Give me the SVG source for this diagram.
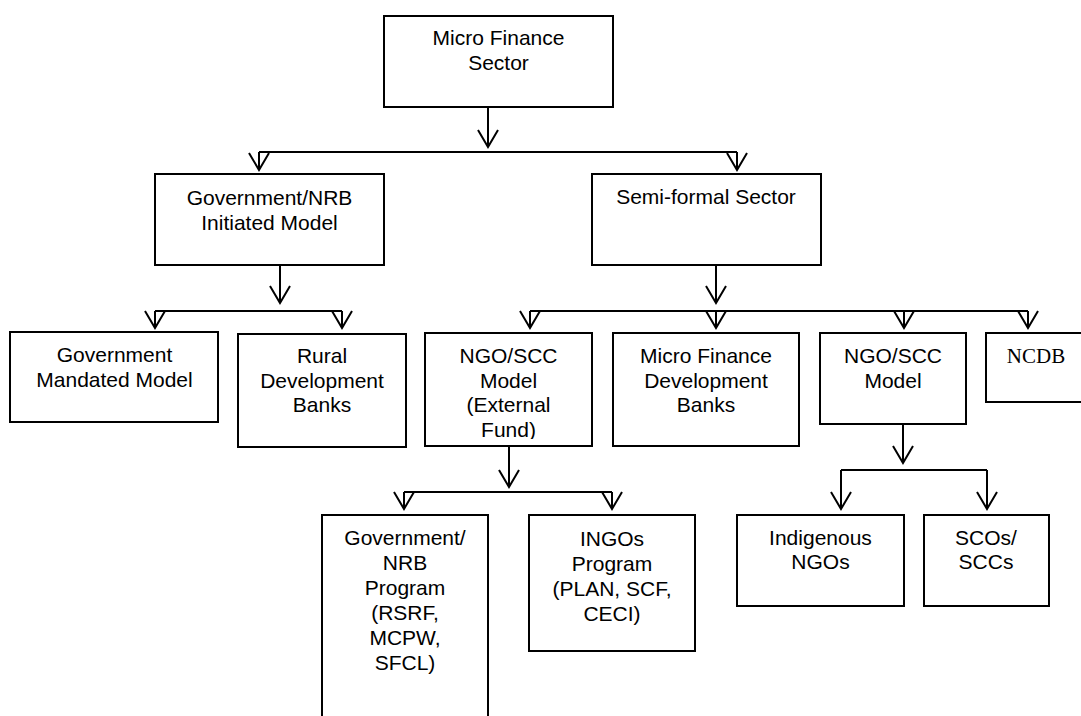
<svg xmlns="http://www.w3.org/2000/svg" width="1081" height="716" viewBox="0 0 1081 716">
  <style>
    .box { fill: #fff; stroke: #000; stroke-width: 2; }
    .lbl { font-family: "Liberation Sans", Arial, sans-serif; font-size: 21px; fill: #000; text-anchor: middle; }
    .ser { font-family: "Liberation Serif", "Times New Roman", serif; font-size: 21px; fill: #000; text-anchor: middle; }
    .con { fill: none; stroke: #000; stroke-width: 2; }
    .arr { fill: none; stroke: #000; stroke-width: 2; marker-end: url(#v); }
  </style>
  <defs>
    <marker id="v" markerUnits="userSpaceOnUse" markerWidth="40" markerHeight="40" viewBox="-20 -20 40 40" refX="0" refY="0" orient="auto" overflow="visible">
      <path d="M-17,-10 L0,0 L-17,10" fill="none" stroke="#000" stroke-width="2"/>
    </marker>
    <clipPath id="clipNgo"><rect x="425" y="333" width="167" height="106"/></clipPath>
  </defs>
  <rect width="1081" height="716" fill="#fff"/>

  <g id="connectors">
    <line class="arr" x1="488" y1="107" x2="488" y2="147"/>
    <polyline class="con" points="259,152 737,152"/>
    <line class="arr" x1="259" y1="152" x2="259" y2="170"/>
    <line class="arr" x1="737" y1="152" x2="737" y2="170"/>

    <line class="arr" x1="280" y1="265" x2="280" y2="303"/>
    <polyline class="con" points="155,311 342,311"/>
    <line class="arr" x1="155" y1="311" x2="155" y2="328"/>
    <line class="arr" x1="342" y1="311" x2="342" y2="328"/>

    <line class="arr" x1="716" y1="265" x2="716" y2="303"/>
    <polyline class="con" points="530,311 1028,311"/>
    <line class="arr" x1="530" y1="311" x2="530" y2="328"/>
    <line class="arr" x1="716" y1="311" x2="716" y2="328"/>
    <line class="arr" x1="904" y1="311" x2="904" y2="328"/>
    <line class="arr" x1="1028" y1="311" x2="1028" y2="328"/>

    <line class="arr" x1="509" y1="446" x2="509" y2="487"/>
    <polyline class="con" points="404,492 612,492"/>
    <line class="arr" x1="404" y1="492" x2="404" y2="509"/>
    <line class="arr" x1="612" y1="492" x2="612" y2="509"/>

    <line class="arr" x1="903" y1="424" x2="903" y2="463"/>
    <polyline class="con" points="841,470 987,470"/>
    <line class="arr" x1="841" y1="470" x2="841" y2="509"/>
    <line class="arr" x1="987" y1="470" x2="987" y2="509"/>
  </g>

  <g id="micro-finance-sector">
    <rect class="box" x="384" y="16" width="229" height="91"/>
    <text class="lbl" x="498.5" y="45">Micro Finance</text>
    <text class="lbl" x="498.5" y="70">Sector</text>
  </g>
  <g id="gov-nrb-initiated">
    <rect class="box" x="155" y="174" width="229" height="91"/>
    <text class="lbl" x="269.5" y="205">Government/NRB</text>
    <text class="lbl" x="269.5" y="230">Initiated Model</text>
  </g>
  <g id="semi-formal">
    <rect class="box" x="592" y="174" width="229" height="91"/>
    <text class="lbl" x="706" y="204">Semi-formal Sector</text>
  </g>
  <g id="gov-mandated">
    <rect class="box" x="10" y="332" width="208" height="90"/>
    <text class="lbl" x="114.5" y="362">Government</text>
    <text class="lbl" x="114.5" y="386.5">Mandated Model</text>
  </g>
  <g id="rural-dev-banks">
    <rect class="box" x="238" y="334" width="168" height="113"/>
    <text class="lbl" x="322" y="363">Rural</text>
    <text class="lbl" x="322" y="387.5">Development</text>
    <text class="lbl" x="322" y="412">Banks</text>
  </g>
  <g id="ngo-scc-external">
    <rect class="box" x="425" y="333" width="167" height="113"/>
    <g clip-path="url(#clipNgo)">
      <text class="lbl" x="508.5" y="363">NGO/SCC</text>
      <text class="lbl" x="508.5" y="387.7">Model</text>
      <text class="lbl" x="508.5" y="412.4">(External</text>
      <text class="lbl" x="508.5" y="437.1">Fund)</text>
    </g>
  </g>
  <g id="mf-dev-banks">
    <rect class="box" x="613" y="333" width="186" height="113"/>
    <text class="lbl" x="706" y="363">Micro Finance</text>
    <text class="lbl" x="706" y="387.5">Development</text>
    <text class="lbl" x="706" y="412">Banks</text>
  </g>
  <g id="ngo-scc-model">
    <rect class="box" x="820" y="333" width="146" height="91"/>
    <text class="lbl" x="893" y="363">NGO/SCC</text>
    <text class="lbl" x="893" y="387.5">Model</text>
  </g>
  <g id="ncdb">
    <rect class="box" x="986" y="333" width="100" height="69"/>
    <text class="ser" x="1036" y="363">NCDB</text>
  </g>
  <g id="gov-nrb-program">
    <rect class="box" x="322" y="515" width="166" height="220"/>
    <text class="lbl" x="405" y="545">Government/</text>
    <text class="lbl" x="405" y="570">NRB</text>
    <text class="lbl" x="405" y="595">Program</text>
    <text class="lbl" x="405" y="620">(RSRF,</text>
    <text class="lbl" x="405" y="645">MCPW,</text>
    <text class="lbl" x="405" y="670">SFCL)</text>
  </g>
  <g id="ingos-program">
    <rect class="box" x="529" y="515" width="166" height="136"/>
    <text class="lbl" x="612" y="546">INGOs</text>
    <text class="lbl" x="612" y="571">Program</text>
    <text class="lbl" x="612" y="596">(PLAN, SCF,</text>
    <text class="lbl" x="612" y="621">CECI)</text>
  </g>
  <g id="indigenous-ngos">
    <rect class="box" x="737" y="515" width="167" height="91"/>
    <text class="lbl" x="820.5" y="545">Indigenous</text>
    <text class="lbl" x="820.5" y="569">NGOs</text>
  </g>
  <g id="scos-sccs">
    <rect class="box" x="924" y="515" width="125" height="91"/>
    <text class="lbl" x="986" y="545">SCOs/</text>
    <text class="lbl" x="986" y="569">SCCs</text>
  </g>
</svg>
